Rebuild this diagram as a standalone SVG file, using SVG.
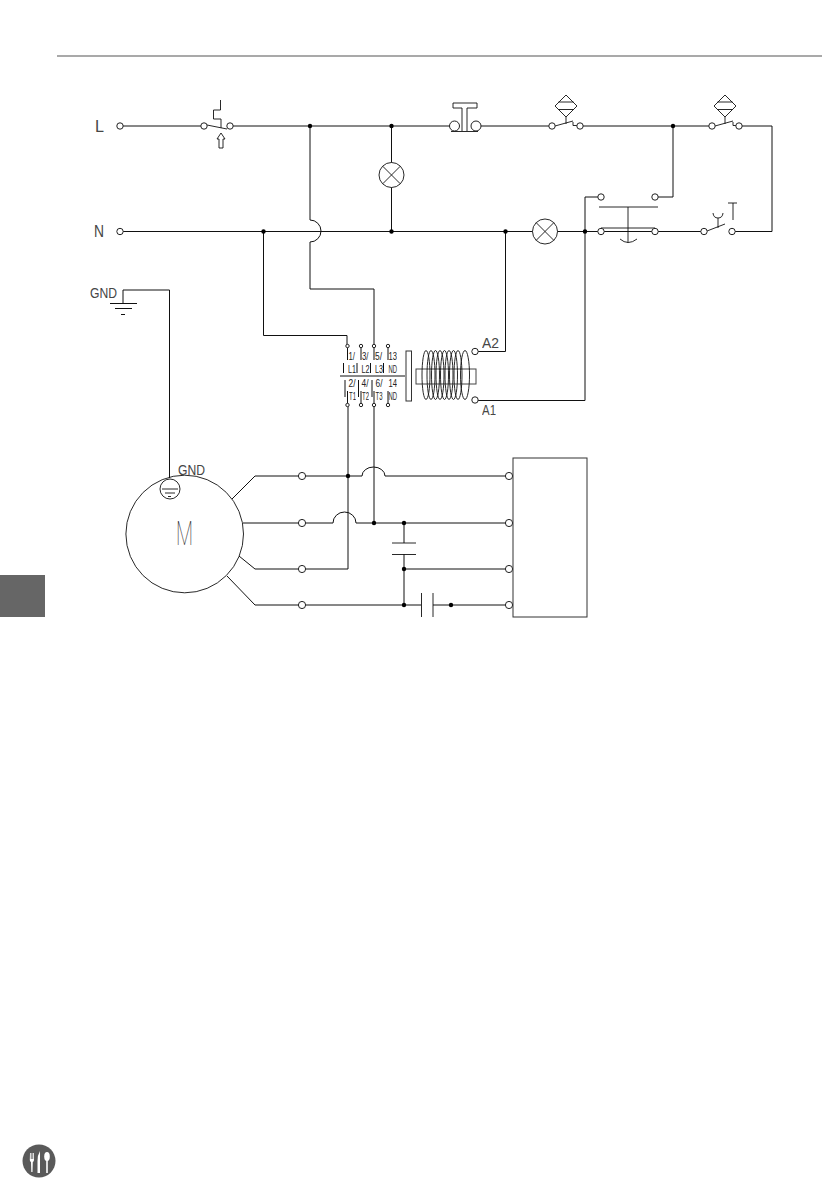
<svg xmlns="http://www.w3.org/2000/svg" width="840" height="1192" viewBox="0 0 840 1192">
<style>
.w{fill:none;stroke:#111;stroke-width:1}
.s{fill:none;stroke:#111;stroke-width:.9}
.t{fill:#fff;stroke:#222;stroke-width:1}
.d{fill:#000;stroke:none}
text{opacity:.99}
.l{font-family:"Liberation Sans",Arial,sans-serif;fill:#444;font-size:15px}
.c{font-family:"Liberation Sans",Arial,sans-serif;fill:#222;font-size:11px}
</style>
<defs>
<circle id="dot" class="d" r="2.200"/>
<circle id="term" class="t" r="3.200"/>
<circle id="big" class="t" r="3.600"/>
<g id="flow"><path class="s" d="M0 -31L11 -20L0 -9L-11 -20Z M-7.500 -24H7.500 M-7.500 -16.500H7.500 M0 -9V-2"/></g>
<g id="lamp"><circle class="s" r="12.500"/><path class="s" d="M-8.800 -8.800L8.800 8.800M8.800 -8.800L-8.800 8.800"/></g>
</defs>
<rect id="header-rule" x="57" y="55.500" width="765" height="1" fill="#555"/>
<rect id="side-tab" x="0" y="575" width="45" height="42" fill="#666"/>
<g id="connectors">
<path class="w" d="M123 126H201M233 126H451M481 126H549M583 126H709M742 126H772V231.500H735"/>
<path class="w" d="M123 231.500H532.500M557.500 231.500H598M604 231.500H652M658 231.500H701"/>
<path class="w" d="M310 126V220M310 242V289H374V346"/>
<path class="w" d="M310 220A11 11 0 0 1 310 242" />
<path class="w" d="M263.500 231.500V335.500H347V346"/>
<path class="w" d="M391.500 126V162.500M391.500 187.500V231.500"/>
<path class="w" d="M505.500 231.500V351.500H478"/>
<path class="w" d="M585 231.500V197H598M585 231.500V400.500H478"/>
<path class="w" d="M673 126V197H658"/>
<path class="w" d="M123 303V290H169.500V478"/>
<path class="w" d="M232 499L255 476H299M243 523H299M239 556L255 569H299M227 576L255 605H299"/>
<path class="w" d="M305 476H362A11.500 9 0 0 1 385 476H506M305 523H333A11.500 11 0 0 1 356 523H506M305 605H421M433 605H506M404 569H506M305 569H348V405M374 405V523M404 523V543M404 554V605"/>
</g>
<g id="terminal-L"><use href="#term" x="120" y="126"/><text x="95" y="132" font-family="Liberation Sans, Arial, sans-serif" font-size="17" fill="#444" textLength="9" lengthAdjust="spacingAndGlyphs">L</text></g>
<g id="terminal-N"><use href="#term" x="120" y="231.500"/><text x="94" y="237" font-family="Liberation Sans, Arial, sans-serif" font-size="16" fill="#444" textLength="10" lengthAdjust="spacingAndGlyphs">N</text></g>
<g id="thermal-switch">
<path class="s" d="M220.500 100V110H213.500V119H221V128M207 125L227 129"/>
<path class="s" d="M221 133L225 139H223V148H219V139H217Z"/>
<use href="#term" x="204" y="126"/><use href="#term" x="230" y="126"/>
</g>
<g id="junctions">
<use href="#dot" x="310" y="126"/><use href="#dot" x="391.500" y="126"/><use href="#dot" x="673" y="126"/>
<use href="#dot" x="263.500" y="231.500"/><use href="#dot" x="391.500" y="231.500"/><use href="#dot" x="505.500" y="231.500"/><use href="#dot" x="585" y="231.500"/>
<use href="#dot" x="348" y="476"/><use href="#dot" x="374" y="523"/><use href="#dot" x="404" y="523"/><use href="#dot" x="404" y="569"/><use href="#dot" x="404" y="605"/><use href="#dot" x="451" y="605"/>
</g>
<g id="lamp-1"><use href="#lamp" x="391.500" y="175"/></g>
<g id="lamp-2"><use href="#lamp" x="545" y="231.500"/></g>
<g id="t-button">
<path class="s" d="M462 131V108H453V103H477V108H467V131M451 131.500H478"/>
<circle class="t" cx="454.500" cy="126" r="5"/><circle class="t" cx="476" cy="126" r="5"/>
</g>
<g id="flow-switch-1"><use href="#flow" x="566" y="126"/><path class="s" d="M555 126L573 121M573 122V125.500H577"/><use href="#term" x="552" y="126"/><use href="#term" x="580" y="126"/></g>
<g id="flow-switch-2"><use href="#flow" x="725" y="126"/><path class="s" d="M715 126L733 121M733 122V125.500H736"/><use href="#term" x="712" y="126"/><use href="#term" x="739" y="126"/></g>
<g id="double-contact">
<path class="s" d="M599 207H658M628 207V243M601 228H655M620 239Q628 246 637 239"/>
<use href="#term" x="601" y="197"/><use href="#term" x="655" y="197"/><use href="#term" x="601" y="231.500"/><use href="#term" x="655" y="231.500"/>
</g>
<g id="push-button">
<path class="s" d="M707 231L725 224M728 203H737M733 203V220M713 213Q713.500 218 718 218Q722.500 218 723 213M718 218V228"/>
<use href="#term" x="704" y="231.500"/><use href="#term" x="732" y="231.500"/>
</g>
<g id="ground-1">
<path class="w" d="M110 303.500H137M115 308.500H132M121 314.500H125"/>
<text class="l" x="90" y="298" textLength="27" lengthAdjust="spacingAndGlyphs">GND</text>
</g>
<g id="contactor">
<path class="w" d="M340 376H405"/>
<path class="w" d="M347.500 346V360M361 346V360M374 346V360M388 346V360M347.500 391V405M361 391V405M374 391V405M388 391V405"/>
<path class="w" d="M343.500 363V373M357 363V373M370.500 363V373M383.500 363V373M345 380V397M358.500 380V397M372 380V397"/>
<g fill="#fff" stroke="#222" stroke-width="1"><circle cx="347.500" cy="346" r="1.700"/><circle cx="361" cy="346" r="1.700"/><circle cx="374" cy="346" r="1.700"/><circle cx="388" cy="346" r="1.700"/><circle cx="347.500" cy="405" r="1.700"/><circle cx="361" cy="405" r="1.700"/><circle cx="374" cy="405" r="1.700"/><circle cx="388" cy="405" r="1.700"/></g>
<g>
<text class="c" x="348.500" y="360" textLength="6.500" lengthAdjust="spacingAndGlyphs">1/</text><text class="c" x="362" y="360" textLength="6.500" lengthAdjust="spacingAndGlyphs">3/</text><text class="c" x="375" y="360" textLength="7" lengthAdjust="spacingAndGlyphs">5/</text><text class="c" x="388.500" y="360" textLength="8.500" lengthAdjust="spacingAndGlyphs">13</text>
<text class="c" x="348" y="372.500" textLength="8" lengthAdjust="spacingAndGlyphs">L1</text><text class="c" x="361.500" y="372.500" textLength="8" lengthAdjust="spacingAndGlyphs">L2</text><text class="c" x="375" y="372.500" textLength="8" lengthAdjust="spacingAndGlyphs">L3</text><text class="c" x="388.500" y="372.500" textLength="8.500" lengthAdjust="spacingAndGlyphs">ND</text>
<text class="c" x="348.500" y="387" textLength="7" lengthAdjust="spacingAndGlyphs">2/</text><text class="c" x="361.500" y="387" textLength="7" lengthAdjust="spacingAndGlyphs">4/</text><text class="c" x="375.500" y="387" textLength="7" lengthAdjust="spacingAndGlyphs">6/</text><text class="c" x="388.500" y="387" textLength="8.500" lengthAdjust="spacingAndGlyphs">14</text>
<text class="c" x="349" y="399.500" textLength="7" lengthAdjust="spacingAndGlyphs">T1</text><text class="c" x="362" y="399.500" textLength="7" lengthAdjust="spacingAndGlyphs">T2</text><text class="c" x="375.500" y="399.500" textLength="7" lengthAdjust="spacingAndGlyphs">T3</text><text class="c" x="388.500" y="399.500" textLength="8.500" lengthAdjust="spacingAndGlyphs">ND</text>
</g>
</g>
<g id="coil">
<rect x="406" y="351" width="5.500" height="50" fill="none" stroke="#333" stroke-width="1"/>
<rect x="416" y="369" width="60" height="15" fill="none" stroke="#444" stroke-width="1"/>
<g class="s"><ellipse cx="426" cy="375" rx="4" ry="24.500"/><ellipse cx="431" cy="375" rx="4" ry="24.500"/><ellipse cx="435.500" cy="375" rx="4" ry="24.500"/><ellipse cx="440" cy="375" rx="4" ry="24.500"/><ellipse cx="444.500" cy="375" rx="4" ry="24.500"/><ellipse cx="449" cy="375" rx="4" ry="24.500"/><ellipse cx="453.500" cy="375" rx="4" ry="24.500"/><ellipse cx="458" cy="375" rx="4" ry="24.500"/><ellipse cx="465" cy="375" rx="4.500" ry="24.500"/></g>
<use href="#term" x="475" y="351.500"/><use href="#term" x="475" y="400"/>
<text class="l" x="482" y="348" textLength="17" lengthAdjust="spacingAndGlyphs">A2</text>
<text class="l" x="482" y="415" textLength="14" lengthAdjust="spacingAndGlyphs">A1</text>
</g>
<g id="motor">
<circle class="s" cx="184.700" cy="534" r="58.800"/>
<text x="176" y="545" font-family="Roboto, Liberation Sans, sans-serif" font-weight="100" fill="#222" textLength="17" lengthAdjust="spacingAndGlyphs" style="font-size:33px">M</text>
<circle class="s" cx="170" cy="489" r="10"/>
<path class="s" d="M162 489H178M165 493H175M168 496.500H171"/>
<text class="l" x="178" y="475" textLength="27" lengthAdjust="spacingAndGlyphs">GND</text>
</g>
<g id="motor-terminals">
<use href="#big" x="302" y="476"/><use href="#big" x="302" y="523"/><use href="#big" x="302" y="569"/><use href="#big" x="302" y="605"/>
</g>
<g id="capacitors">
<path class="s" d="M392 543H416M392 554.500H416M421.500 593V617M433 593V617"/>
</g>
<g id="control-box">
<use href="#big" x="509" y="476"/><use href="#big" x="509" y="523"/><use href="#big" x="509" y="569"/><use href="#big" x="509" y="605"/>
<rect x="513" y="458" width="74" height="159" fill="#fff" stroke="#333" stroke-width="1"/>
</g>
<g id="logo">
<circle cx="39" cy="1161" r="16.500" fill="#5a5a5a"/>
<path fill="#fff" d="M30 1153h.8v6h.8v-6h.8v6h.8v-6h.8v7q0 1.500-1.200 2l-.3 10h-1.200l-.3-10q-1.200-.5-1.200-2z"/>
<path fill="#fff" d="M37.500 1173v-12q0-6 2.500-10v22z"/>
<ellipse cx="47" cy="1156.500" rx="2.800" ry="4.500" fill="#fff"/>
<rect x="46.200" y="1160" width="1.600" height="13" fill="#fff"/>
</g>
</svg>
